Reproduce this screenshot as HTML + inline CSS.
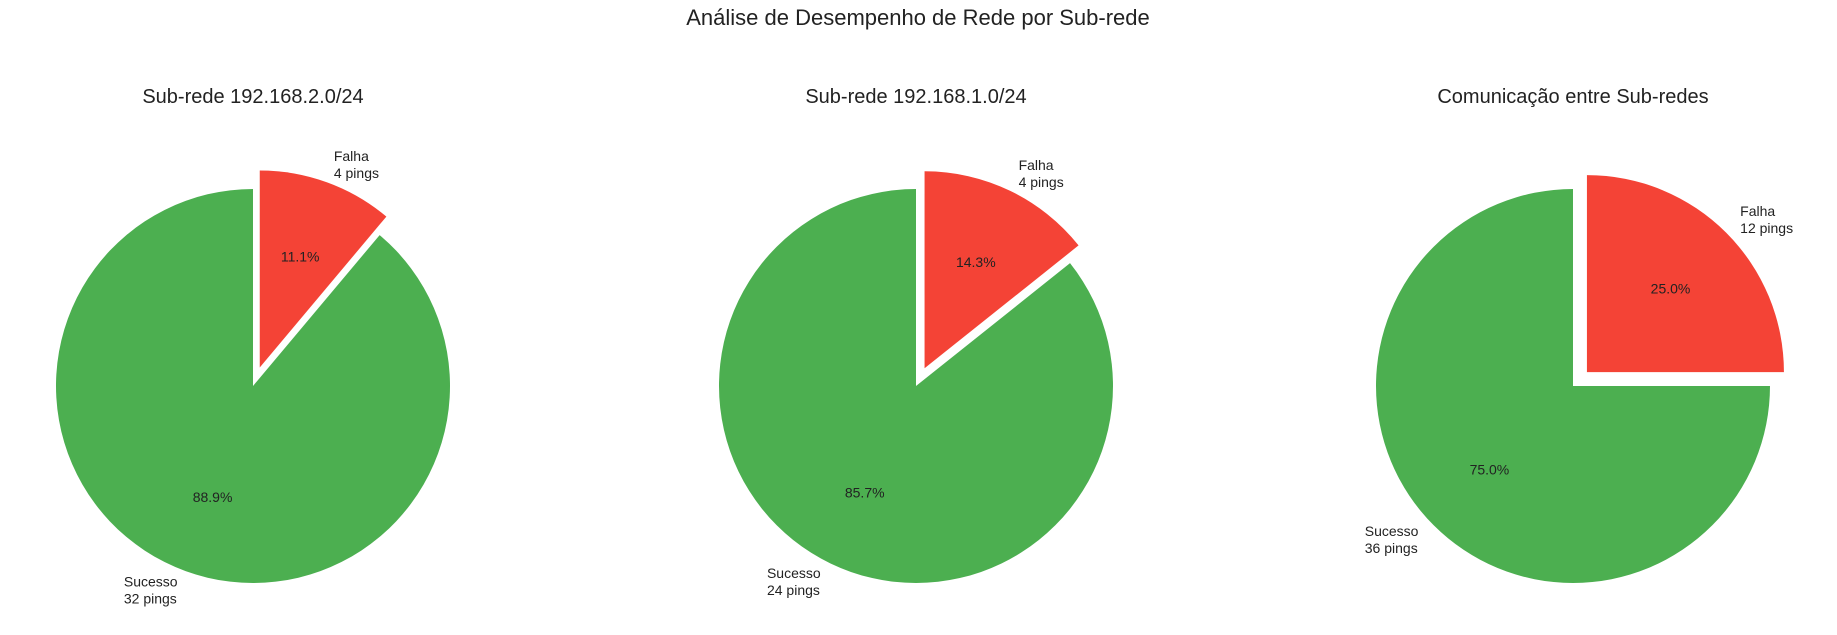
<!DOCTYPE html>
<html><head><meta charset="utf-8"><style>
html,body{margin:0;padding:0;background:#fff;}
svg{display:block;font-family:"Liberation Sans",sans-serif;}
</style></head><body>
<svg id="c" width="1837" height="635" viewBox="0 0 1837 635">
<text x="918" y="25" text-anchor="middle" font-size="22" fill="#222">Análise de Desempenho de Rede por Sub-rede</text>
</svg>
<script>
const titles = ["Sub-rede 192.168.2.0/24","Sub-rede 192.168.1.0/24","Comunicação entre Sub-redes"];
const categories = ["Falha","Sucesso"];
const falhaValues = [4,4,12];
const sucessoValues = [32,24,36];
const colors = ["#F44336","#4CAF50"];
const centersX = [253,916,1573];
const cy = 386, R = 197;
const ns = "http://www.w3.org/2000/svg";
const svg = document.getElementById('c');
function mk(t,a){const e=document.createElementNS(ns,t);for(const k in a)e.setAttribute(k,a[k]);return e;}
for(let p=0;p<3;p++){
  const cx=centersX[p];
  const vals=[falhaValues[p],sucessoValues[p]];
  const tot=vals[0]+vals[1];
  const g=mk('g',{});
  
  
  svg.appendChild(g);
  const tt=mk('text',{x:cx,y:103,'text-anchor':'middle','font-size':20,fill:'#222'});
  
  
  tt.textContent=titles[p];g.appendChild(tt);
  let start=90;
  for(let i=0;i<2;i++){
    const sweep=vals[i]/tot*360;
    const a0=start, a1=start-sweep, mid=(a0+a1)/2*Math.PI/180;
    const ex=i===0?0.1:0;
    const ox=cx+ex*R*Math.cos(mid), oy=cy-ex*R*Math.sin(mid);
    const p0=[ox+R*Math.cos(a0*Math.PI/180), oy-R*Math.sin(a0*Math.PI/180)];
    const p1=[ox+R*Math.cos(a1*Math.PI/180), oy-R*Math.sin(a1*Math.PI/180)];
    const large=sweep>180?1:0;
    const path=mk('path',{d:`M${ox},${oy} L${p0[0]},${p0[1]} A${R},${R} 0 ${large} 1 ${p1[0]},${p1[1]} Z`,fill:colors[i]});
    
    
    g.appendChild(path);
    const pct=mk('text',{x:ox+0.6*R*Math.cos(mid),y:oy-0.6*R*Math.sin(mid)+5,'text-anchor':'middle','font-size':14,fill:'#222'});
    
    
    pct.textContent=(vals[i]/tot*100).toFixed(1)+'%';g.appendChild(pct);
    const lx=ox+1.1*R*Math.cos(mid), ly=oy-1.1*R*Math.sin(mid);
    const lab=mk('text',{x:Math.cos(mid)>=0?lx:lx-55,y:ly-3,'font-size':14,fill:'#222'});
    
    
    const s1=mk('tspan',{x:Math.cos(mid)>=0?lx:lx-55});s1.textContent=categories[i];
    const s2=mk('tspan',{x:Math.cos(mid)>=0?lx:lx-55,dy:17});s2.textContent=vals[i]+' pings';
    lab.appendChild(s1);lab.appendChild(s2);g.appendChild(lab);
    start=a1;
  }
}
</script>
</body></html>
